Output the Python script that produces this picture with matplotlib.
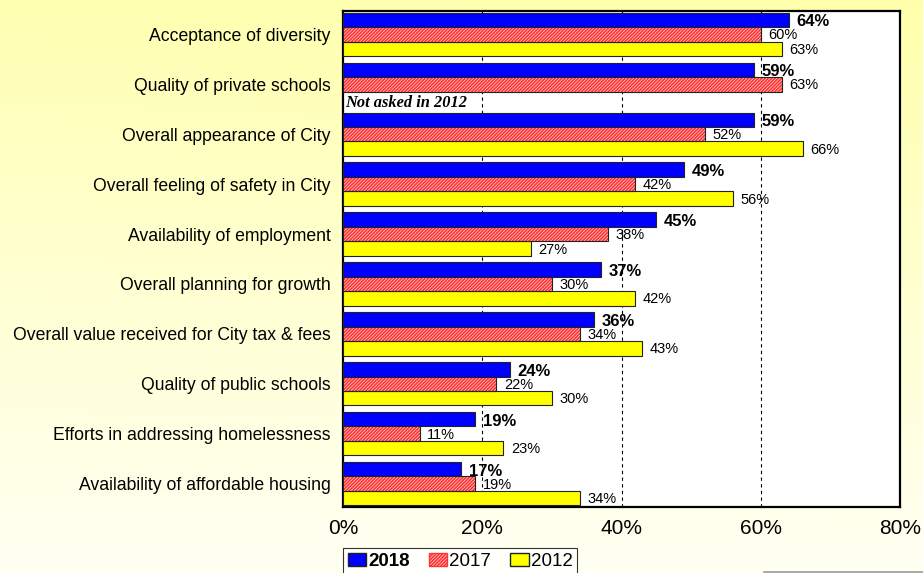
import numpy as np
import matplotlib
matplotlib.use("Agg")
import matplotlib.pyplot as plt
from matplotlib.patches import Patch
from matplotlib.lines import Line2D

plt.rcParams['font.family'] = ['Liberation Sans', 'DejaVu Sans']
plt.rcParams['hatch.linewidth'] = 1.3

# ── Data ──────────────────────────────────────────────────────────────────────
categories = [
    "Acceptance of diversity",
    "Quality of private schools",
    "Overall appearance of City",
    "Overall feeling of safety in City",
    "Availability of employment",
    "Overall planning for growth",
    "Overall value received for City tax & fees",
    "Quality of public schools",
    "Efforts in addressing homelessness",
    "Availability of affordable housing",
]
vals_2018 = [64, 59, 59, 49, 45, 37, 36, 24, 19, 17]
vals_2017 = [60, 63, 52, 42, 38, 30, 34, 22, 11, 19]
vals_2012 = [63, None, 66, 56, 27, 42, 43, 30, 23, 34]
x_ticks = [0, 20, 40, 60, 80]

# ── Figure + gradient background ─────────────────────────────────────────────
fig = plt.figure(figsize=(9.23, 5.73), dpi=100)
bg = fig.add_axes([0, 0, 1, 1], zorder=-10)
yy, xx = np.mgrid[0:1:200j, 0:1:200j]          # row 0 = top
amt = (1 - yy) * (0.95 + 0.1 * xx)
img = np.ones((200, 200, 3))
img[..., 2] = (243 - 68 * amt) / 255.0
bg.imshow(img, aspect='auto', extent=[0, 1, 0, 1], origin='upper')
bg.axis('off')

ax = fig.add_axes([343 / 923, 1 - 507 / 573, 557 / 923, 496 / 573])
ax.set_facecolor('white')

y = np.arange(len(categories))
h = 0.29
edge = '#222222'
hatch = '//////////'

for i in y:
    # 2018
    ax.barh(i - h, vals_2018[i], height=h, color='#0000FF', edgecolor=edge, lw=0.8, zorder=3)
    ax.text(vals_2018[i] + 1.1, i - h + 0.04, f"{vals_2018[i]}%", va='center', ha='left',
            fontsize=12, fontweight='bold', zorder=5)
    # 2017 hatched
    ax.barh(i, vals_2017[i], height=h, color='white', edgecolor='#FF3333', hatch=hatch, lw=0, zorder=3)
    ax.barh(i, vals_2017[i], height=h, fill=False, edgecolor=edge, lw=0.8, zorder=4)
    ax.text(vals_2017[i] + 1.1, i + 0.02, f"{vals_2017[i]}%", va='center', ha='left', fontsize=10.5, zorder=5)
    # 2012
    if vals_2012[i] is None:
        ax.text(0.3, i + h + 0.08, "Not asked in 2012", va='center', ha='left', fontsize=11.8,
                fontweight='bold', fontstyle='italic', family='Liberation Serif', zorder=5)
    else:
        ax.barh(i + h, vals_2012[i], height=h, color='#FFFF00', edgecolor=edge, lw=0.8, zorder=3)
        ax.text(vals_2012[i] + 1.1, i + h + 0.02, f"{vals_2012[i]}%", va='center', ha='left',
                fontsize=10.5, zorder=5)

ax.set_xlim(0, 80)
ax.set_ylim(len(categories) - 1 + 0.47, -0.47)
ax.set_xticks(x_ticks)
ax.set_xticklabels([f"{t}%" for t in x_ticks], fontsize=15)
ax.set_yticks(y)
ax.set_yticklabels(categories, fontsize=12.7)
ax.tick_params(axis='both', length=0)
ax.tick_params(axis='y', pad=9)
ax.tick_params(axis='x', pad=9)
for t in [20, 40, 60]:
    ax.axvline(t, color='black', lw=0.8, ls=(0, (3, 3)), zorder=1)
for s in ax.spines.values():
    s.set_linewidth(1.6)
    s.set_color('black')

handles = [
    Patch(facecolor='#0000FF', edgecolor=edge, label='2018'),
    Patch(facecolor='white', edgecolor='#FF3333', hatch=hatch, label='2017'),
    Patch(facecolor='#FFFF00', edgecolor=edge, label='2012'),
]
leg = fig.legend(handles=handles, loc='upper left', bbox_to_anchor=(343 / 923, 1 - 548 / 573),
                 ncol=3, fontsize=13.5, frameon=True, fancybox=False, edgecolor='black',
                 handlelength=1.0, handleheight=0.75, handletextpad=0.1, columnspacing=1.0,
                 borderpad=0.25, borderaxespad=0)
leg.get_frame().set_linewidth(0.8)
leg.get_texts()[0].set_fontweight('bold')

fig.add_artist(Line2D([764 / 923, 1], [1 - 571.5 / 573] * 2, color='#999999', lw=1.2))

fig.savefig("out.png", dpi=100)
